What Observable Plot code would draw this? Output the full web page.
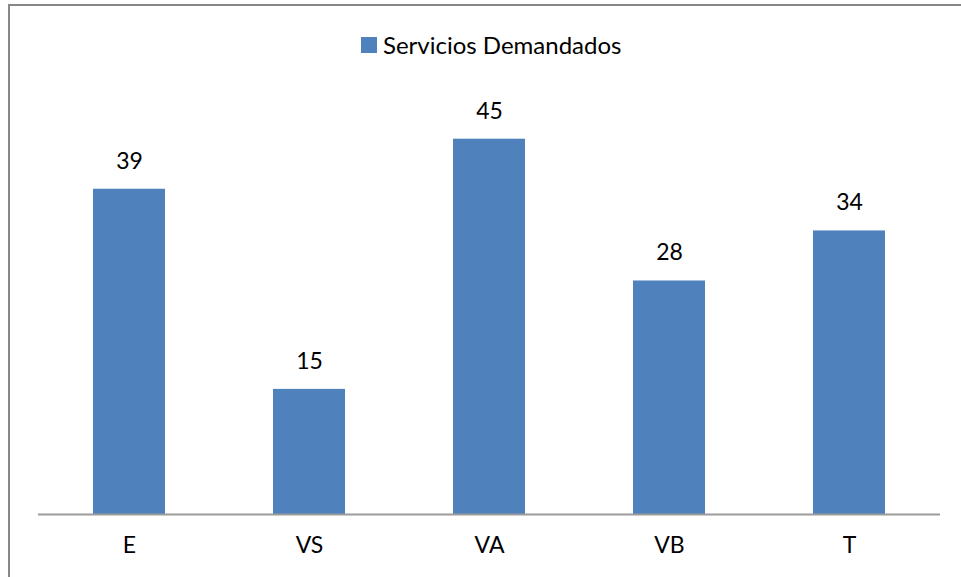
<!DOCTYPE html>
<html>
<head>
<meta charset="utf-8">
<script src="https://cdn.jsdelivr.net/npm/d3@7"></script>
<script src="https://cdn.jsdelivr.net/npm/@observablehq/plot@0.6"></script>
<style>
  html, body { margin: 0; padding: 0; background: #fff; overflow: hidden; }
  #wrap { position: relative; width: 961px; height: 577px; overflow: hidden; font-family: Lato, sans-serif; }
  #frame { position: absolute; left: 8px; top: 4px; width: 1200px; height: 1200px; border: 2px solid #878787; box-sizing: border-box; pointer-events: none; }
  #legend { position: absolute; top: 29px; left: 361px; display: flex; align-items: center; font-size: 24px; line-height: 32px; color: #000; white-space: nowrap; }
  #legend .sw { width: 16px; height: 16px; background: #4F81BD; margin-right: 6px; }
  #chart { position: absolute; left: 0; top: 0; }
</style>
</head>
<body>
<div id="wrap">
  <div id="chart"></div>
  <div id="legend"><span class="sw"></span><span id="legendLabel"></span></div>
  <div id="frame"></div>
</div>
<script>
const categories = ["E", "VS", "VA", "VB", "T"];
const values = [39, 15, 45, 28, 34];
const seriesName = "Servicios Demandados";
const barColor = "#4F81BD";

const data = categories.map((c, i) => ({category: c, value: values[i]}));

document.getElementById("legendLabel").textContent = seriesName;

const chart = Plot.plot({
  width: 961,
  height: 577,
  marginLeft: 38,
  marginRight: 21,
  marginTop: 97,
  marginBottom: 63,
  style: {fontFamily: "Lato, sans-serif", fontSize: "23px", color: "#000", background: "transparent"},
  x: {domain: categories, paddingInner: 0.6, paddingOuter: 0.3, label: null, tickSize: 0, tickPadding: 22, fontSize: 23},
  y: {domain: [0, 50], axis: null},
  marks: [
    Plot.barY(data, {x: "category", y: "value", fill: barColor}),
    Plot.ruleY([0], {stroke: "#9c9c9c", strokeWidth: 2}),
    Plot.text(data, {x: "category", y: "value", text: d => String(d.value), dy: -28, fontSize: 23, fill: "#000"})
  ]
});
document.getElementById("chart").appendChild(chart);
</script>
</body>
</html>
